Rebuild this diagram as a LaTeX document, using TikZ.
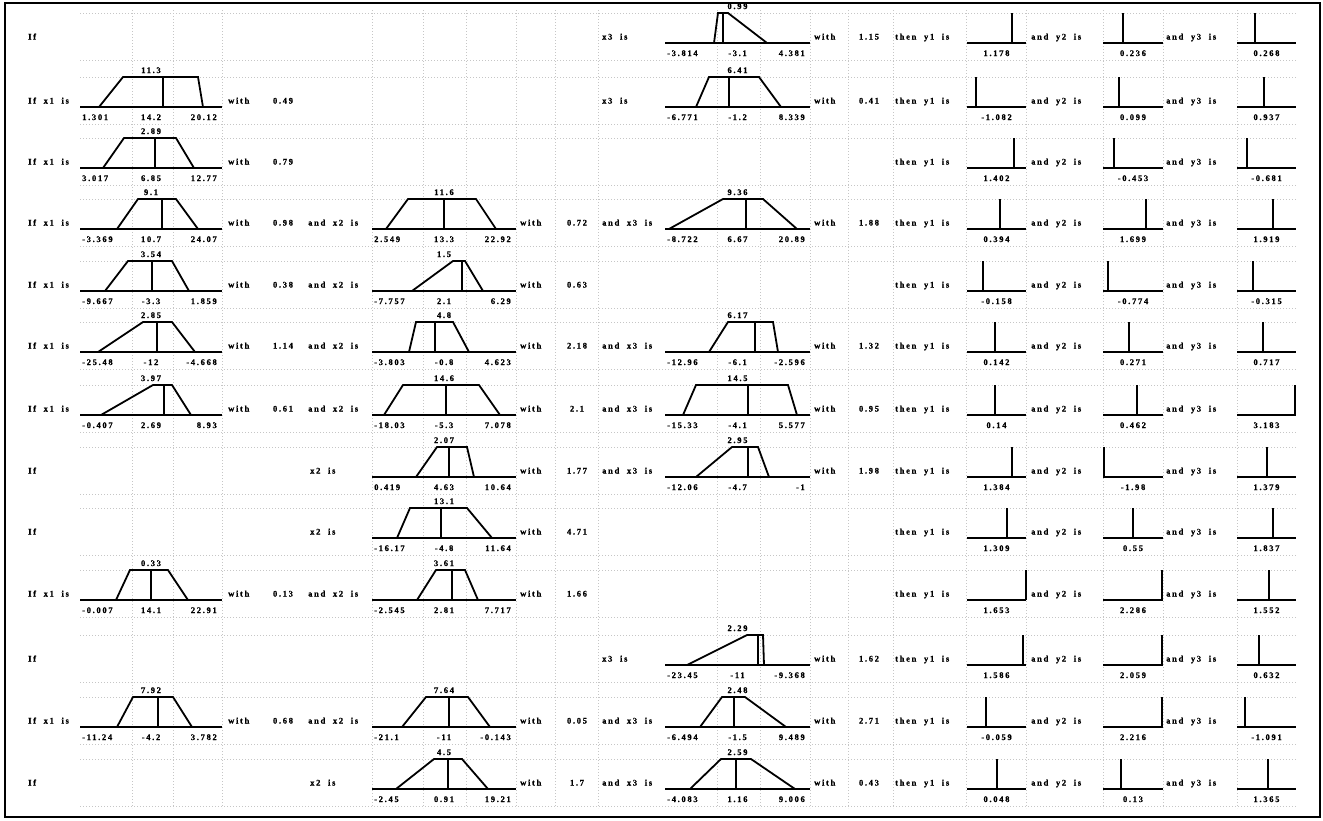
\documentclass[tikz,border=0pt]{standalone}
\usepackage{fontspec}
\newfontfamily\lbf{Liberation Serif}[UprightFont=* Bold, LetterSpace=20, WordSpace=2.0, FakeBold=0.8]
\tikzset{
  num/.style={font=\lbf\fontsize{8.5}{9.5}\selectfont, inner sep=0pt},
  mf/.style={line width=1.8pt, line join=miter},
  ax/.style={line width=2.1pt},
  gridln/.style={gray!45, line width=0.5pt, dash pattern=on 0.8pt off 2.2pt},
  frame/.style={line width=2pt},
}
\newcommand\tlab[7]{%
  \node[num,anchor=base] at ({(#1+#2)/2},#3-34) {#4};
  \node[num,anchor=base west] at (#1+2,#3+13) {#5};
  \node[num,anchor=base] at ({(#1+#2)/2},#3+13) {#6};
  \node[num,anchor=base east] at (#2-5,#3+13) {#7};}
\newcommand\trap[9]{%
  \draw[ax] (#1,#3) -- (#2,#3);
  \draw[mf] (#4,#3) -- (#5,#3-30) -- (#6,#3-30) -- (#7,#3);
  \draw[mf] (#8,#3) -- (#8,#3-30);
  \tlab{#1}{#2}{#3}#9}
\newcommand\sing[5]{%
  \draw[ax] (#1,#3) -- (#2,#3);
  \draw[mf] (#4,#3) -- (#4,#3-30);
  \node[num,anchor=base] at ({(#1+#2)/2},#3+13) {#5};}
\newcommand\tx[3]{\node[num,anchor=base west] at (#1,#2-3.5) {#3};}
\newcommand\vl[3]{\node[num,anchor=base] at (#1,#2-3.5) {#3};}
% column helpers
\newcommand\XA[7]{\trap{80}{222}{#1}{#2}{#3}{#4}{#5}{#6}{#7}}
\newcommand\XB[7]{\trap{372}{516}{#1}{#2}{#3}{#4}{#5}{#6}{#7}}
\newcommand\XC[7]{\trap{665}{810}{#1}{#2}{#3}{#4}{#5}{#6}{#7}}
\newcommand\YS[7]{%
  \tx{895}{#1}{then y1 is}\sing{967}{1026}{#1}{#2}{#3}%
  \tx{1031}{#1}{and y2 is}\sing{1103}{1163}{#1}{#4}{#5}%
  \tx{1166}{#1}{and y3 is}\sing{1237}{1296}{#1}{#6}{#7}}
\newcommand\WA[2]{\tx{228}{#1}{with}\vl{283}{#1}{#2}}
\newcommand\WB[2]{\tx{520}{#1}{with}\vl{577}{#1}{#2}}
\newcommand\WC[2]{\tx{814}{#1}{with}\vl{869}{#1}{#2}}
\begin{document}
\begin{tikzpicture}[x=1pt,y=-1pt]
\useasboundingbox (0,0) rectangle (1323,820);
\fill[white] (0,0) rectangle (1323,820);
% faint spreadsheet grid
\foreach \gx in {132,173,222,372,423,466,516,555,598,717,760,810,848,893,966,1026,1103,1163,1237}
  \draw[gridln] (\gx,10) -- (\gx,808);
\foreach \gy in {43,107,168,229,291,352,415,477,538,600,665,727,789}{
  \draw[gridln] (80,\gy-30) -- (1296,\gy-30);
  \draw[gridln] (80,\gy+17) -- (1296,\gy+17);}
\draw[frame] (5,3) rectangle (1320,817);
% ---- row 1
\tx{28}{43}{If}
\tx{602}{43}{x3 is}
\XC{43}{714}{718}{728}{767}{723}{{0.99}{-3.814}{-3.1}{4.381}}
\WC{43}{1.15}
\YS{43}{1012}{1.178}{1123}{0.236}{1255}{0.268}
% ---- row 2
\tx{28}{107}{If x1 is}
\XA{107}{99}{123}{198}{203}{163}{{11.3}{1.301}{14.2}{20.12}}
\WA{107}{0.49}
\tx{602}{107}{x3 is}
\XC{107}{696}{709}{759}{781}{729}{{6.41}{-6.771}{-1.2}{8.339}}
\WC{107}{0.41}
\YS{107}{976}{-1.082}{1119}{0.099}{1264}{0.937}
% ---- row 3
\tx{28}{168}{If x1 is}
\XA{168}{103}{124}{176}{194}{155}{{2.89}{3.017}{6.85}{12.77}}
\WA{168}{0.79}
\YS{168}{1014}{1.402}{1114}{-0.453}{1247}{-0.681}
% ---- row 4
\tx{28}{229}{If x1 is}
\XA{229}{117}{138}{176}{198}{162}{{9.1}{-3.369}{10.7}{24.07}}
\WA{229}{0.98}
\tx{308}{229}{and x2 is}
\XB{229}{386}{408}{476}{496}{444}{{11.6}{2.549}{13.3}{22.92}}
\WB{229}{0.72}
\tx{602}{229}{and x3 is}
\XC{229}{669}{723}{763}{797}{746}{{9.36}{-8.722}{6.67}{20.89}}
\WC{229}{1.88}
\YS{229}{1000}{0.394}{1146}{1.699}{1273}{1.919}
% ---- row 5
\tx{28}{291}{If x1 is}
\XA{291}{105}{128}{172}{189}{152}{{3.54}{-9.667}{-3.3}{1.859}}
\WA{291}{0.38}
\tx{308}{291}{and x2 is}
\XB{291}{412}{453}{465}{483}{462}{{1.5}{-7.757}{2.1}{6.29}}
\WB{291}{0.63}
\YS{291}{983}{-0.158}{1108}{-0.774}{1253}{-0.315}
% ---- row 6
\tx{28}{352}{If x1 is}
\XA{352}{98}{143}{172}{195}{157}{{2.85}{-25.48}{-12}{-4.668}}
\WA{352}{1.14}
\tx{308}{352}{and x2 is}
\XB{352}{409}{416}{453}{469}{435}{{4.8}{-3.803}{-0.8}{4.623}}
\WB{352}{2.18}
\tx{602}{352}{and x3 is}
\XC{352}{709}{728}{773}{778}{755}{{6.17}{-12.96}{-6.1}{-2.596}}
\WC{352}{1.32}
\YS{352}{995}{0.142}{1129}{0.271}{1263}{0.717}
% ---- row 7
\tx{28}{415}{If x1 is}
\XA{415}{101}{153}{172}{191}{164}{{3.97}{-0.407}{2.69}{8.93}}
\WA{415}{0.61}
\tx{308}{415}{and x2 is}
\XB{415}{384}{403}{479}{500}{446}{{14.6}{-18.03}{-5.3}{7.078}}
\WB{415}{2.1}
\tx{602}{415}{and x3 is}
\XC{415}{683}{696}{788}{797}{748}{{14.5}{-15.33}{-4.1}{5.577}}
\WC{415}{0.95}
\YS{415}{995}{0.14}{1137}{0.462}{1295}{3.183}
% ---- row 8
\tx{28}{477}{If}
\tx{310}{477}{x2 is}
\XB{477}{416}{437}{467}{474}{449}{{2.07}{0.419}{4.63}{10.64}}
\WB{477}{1.77}
\tx{602}{477}{and x3 is}
\XC{477}{696}{732}{758}{769}{748}{{2.95}{-12.06}{-4.7}{-1}}
\WC{477}{1.98}
\YS{477}{1012}{1.384}{1104}{-1.98}{1267}{1.379}
% ---- row 9
\tx{28}{538}{If}
\tx{310}{538}{x2 is}
\XB{538}{397}{410}{467}{492}{441}{{13.1}{-16.17}{-4.8}{11.64}}
\WB{538}{4.71}
\YS{538}{1007}{1.309}{1133}{0.55}{1273}{1.837}
% ---- row 10
\tx{28}{600}{If x1 is}
\XA{600}{116}{130}{168}{188}{151}{{0.33}{-0.007}{14.1}{22.91}}
\WA{600}{0.13}
\tx{308}{600}{and x2 is}
\XB{600}{417}{436}{465}{478}{452}{{3.61}{-2.545}{2.81}{7.717}}
\WB{600}{1.66}
\YS{600}{1026}{1.653}{1162}{2.286}{1269}{1.552}
% ---- row 11
\tx{28}{665}{If}
\tx{602}{665}{x3 is}
\XC{665}{687}{747}{763}{764}{758}{{2.29}{-23.45}{-11}{-9.368}}
\WC{665}{1.62}
\YS{665}{1023}{1.586}{1162}{2.059}{1259}{0.632}
% ---- row 12
\tx{28}{727}{If x1 is}
\XA{727}{117}{133}{173}{192}{158}{{7.92}{-11.24}{-4.2}{3.782}}
\WA{727}{0.68}
\tx{308}{727}{and x2 is}
\XB{727}{402}{426}{468}{490}{449}{{7.64}{-21.1}{-11}{-0.143}}
\WB{727}{0.05}
\tx{602}{727}{and x3 is}
\XC{727}{700}{722}{745}{786}{734}{{2.48}{-6.494}{-1.5}{9.489}}
\WC{727}{2.71}
\YS{727}{986}{-0.059}{1162}{2.216}{1245}{-1.091}
% ---- row 13
\tx{28}{789}{If}
\tx{310}{789}{x2 is}
\XB{789}{396}{434}{462}{488}{448}{{4.5}{-2.45}{0.91}{19.21}}
\WB{789}{1.7}
\tx{602}{789}{and x3 is}
\XC{789}{690}{721}{751}{795}{736}{{2.59}{-4.083}{1.16}{9.006}}
\WC{789}{0.43}
\YS{789}{997}{0.048}{1121}{0.13}{1268}{1.365}
\end{tikzpicture}
\end{document}
